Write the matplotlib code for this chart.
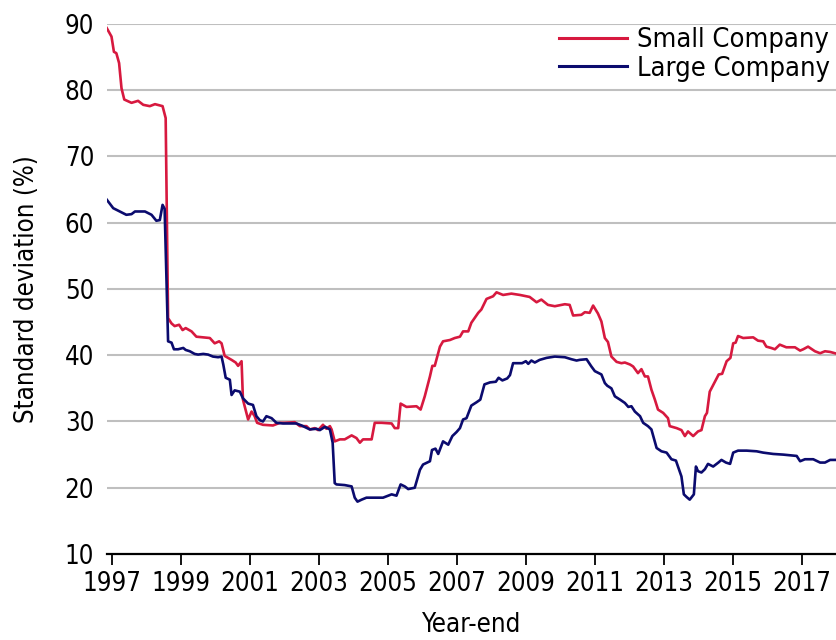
import matplotlib
matplotlib.use("Agg")
import matplotlib.pyplot as plt

plt.rcParams['font.family'] = ['DejaVu Sans']
plt.rcParams['font.stretch'] = 'condensed'

small_years = [1996.86, 1997.00, 1997.07, 1997.14, 1997.22, 1997.29, 1997.37, 1997.58, 1997.77, 1997.92,
               1998.11, 1998.26, 1998.48, 1998.57, 1998.64, 1998.74, 1998.83, 1998.96, 1999.06, 1999.15,
               1999.32, 1999.46, 1999.66, 1999.85, 1999.99, 2000.12, 2000.19, 2000.28, 2000.38, 2000.48,
               2000.60, 2000.67, 2000.77, 2000.81, 2000.96, 2001.06, 2001.15, 2001.22, 2001.39, 2001.68,
               2001.88, 2002.02, 2002.31, 2002.46, 2002.65, 2002.75, 2002.89, 2002.99, 2003.13, 2003.23,
               2003.33, 2003.38, 2003.47, 2003.62, 2003.76, 2003.96, 2004.10, 2004.20, 2004.29, 2004.54,
               2004.63, 2004.83, 2005.12, 2005.21, 2005.31, 2005.38, 2005.45, 2005.55, 2005.84, 2005.96,
               2006.08, 2006.23, 2006.30, 2006.37, 2006.52, 2006.61, 2006.81, 2006.95, 2007.10, 2007.19,
               2007.34, 2007.43, 2007.63, 2007.72, 2007.87, 2008.06, 2008.16, 2008.35, 2008.59, 2008.84,
               2009.12, 2009.32, 2009.46, 2009.65, 2009.85, 2010.14, 2010.28, 2010.38, 2010.62, 2010.72,
               2010.86, 2010.96, 2011.10, 2011.20, 2011.30, 2011.39, 2011.49, 2011.64, 2011.78, 2011.88,
               2012.03, 2012.12, 2012.26, 2012.36, 2012.46, 2012.55, 2012.65, 2012.75, 2012.84, 2012.99,
               2013.13, 2013.18, 2013.38, 2013.52, 2013.62, 2013.71, 2013.86, 2014.00, 2014.10, 2014.20,
               2014.26, 2014.34, 2014.49, 2014.60, 2014.70, 2014.83, 2014.94, 2015.02, 2015.09, 2015.16,
               2015.31, 2015.60, 2015.74, 2015.89, 2015.98, 2016.12, 2016.23, 2016.37, 2016.56, 2016.81,
               2016.96, 2017.05, 2017.19, 2017.39, 2017.54, 2017.68, 2017.83, 2017.97]
small_values = [89.4, 88.1, 85.8, 85.6, 84.1, 80.3, 78.6, 78.1, 78.4, 77.8,
                77.6, 77.9, 77.6, 75.8, 45.6, 44.8, 44.4, 44.6, 43.8, 44.1,
                43.6, 42.8, 42.7, 42.6, 41.8, 42.1, 41.8, 39.9, 39.6, 39.3,
                38.9, 38.4, 39.1, 33.3, 30.3, 31.5, 30.8, 29.8, 29.5, 29.4,
                29.8, 29.8, 29.9, 29.3, 29.3, 28.8, 29.0, 28.7, 29.5, 28.9,
                29.3, 28.8, 27.0, 27.3, 27.3, 27.9, 27.5, 26.8, 27.3, 27.3,
                29.8, 29.8, 29.7, 29.0, 29.0, 32.7, 32.5, 32.2, 32.3, 31.8,
                33.8, 36.8, 38.4, 38.4, 41.3, 42.1, 42.3, 42.6, 42.8, 43.6,
                43.6, 44.9, 46.4, 46.9, 48.5, 48.9, 49.5, 49.1, 49.3, 49.1,
                48.8, 48.0, 48.4, 47.6, 47.4, 47.7, 47.6, 46.0, 46.1, 46.5,
                46.4, 47.5, 46.3, 45.1, 42.6, 42.0, 39.8, 39.0, 38.8, 38.9,
                38.6, 38.3, 37.3, 37.9, 36.8, 36.8, 34.8, 33.3, 31.8, 31.3,
                30.5, 29.3, 29.0, 28.7, 27.8, 28.5, 27.8, 28.5, 28.7, 30.8,
                31.3, 34.5, 36.0, 37.1, 37.2, 39.1, 39.6, 41.8, 41.9, 42.9,
                42.6, 42.7, 42.2, 42.1, 41.3, 41.1, 40.9, 41.6, 41.2, 41.2,
                40.7, 40.9, 41.3, 40.6, 40.3, 40.6, 40.5, 40.3]

large_years = [1996.86, 1997.05, 1997.24, 1997.43, 1997.58, 1997.68, 1997.97, 1998.16, 1998.30, 1998.40,
               1998.48, 1998.54, 1998.64, 1998.74, 1998.81, 1998.93, 1999.08, 1999.15, 1999.27, 1999.41,
               1999.51, 1999.66, 1999.80, 1999.94, 2000.09, 2000.19, 2000.24, 2000.31, 2000.43, 2000.48,
               2000.57, 2000.72, 2000.81, 2000.96, 2001.10, 2001.20, 2001.30, 2001.39, 2001.49, 2001.64,
               2001.78, 2001.97, 2002.36, 2002.51, 2002.75, 2002.94, 2003.04, 2003.19, 2003.33, 2003.41,
               2003.47, 2003.52, 2003.76, 2003.96, 2004.05, 2004.13, 2004.25, 2004.39, 2004.68, 2004.87,
               2004.97, 2005.12, 2005.26, 2005.38, 2005.50, 2005.60, 2005.79, 2005.94, 2006.03, 2006.23,
               2006.29, 2006.39, 2006.47, 2006.61, 2006.76, 2006.88, 2007.00, 2007.10, 2007.19, 2007.29,
               2007.43, 2007.58, 2007.69, 2007.81, 2007.97, 2008.14, 2008.22, 2008.33, 2008.47, 2008.55,
               2008.64, 2008.90, 2009.01, 2009.08, 2009.17, 2009.27, 2009.41, 2009.61, 2009.85, 2010.14,
               2010.33, 2010.48, 2010.57, 2010.77, 2010.91, 2011.01, 2011.20, 2011.30, 2011.37, 2011.49,
               2011.59, 2011.74, 2011.88, 2011.98, 2012.07, 2012.17, 2012.32, 2012.41, 2012.55, 2012.65,
               2012.80, 2012.94, 2013.09, 2013.23, 2013.36, 2013.42, 2013.52, 2013.59, 2013.67, 2013.76,
               2013.88, 2013.94, 2014.00, 2014.10, 2014.20, 2014.29, 2014.44, 2014.59, 2014.68, 2014.81,
               2014.93, 2015.02, 2015.16, 2015.41, 2015.70, 2015.89, 2016.18, 2016.47, 2016.86, 2016.96,
               2017.10, 2017.34, 2017.54, 2017.68, 2017.83, 2017.97]
large_values = [63.5, 62.2, 61.7, 61.2, 61.3, 61.7, 61.7, 61.2, 60.3, 60.4,
                62.7, 62.1, 42.1, 41.9, 40.9, 40.9, 41.1, 40.8, 40.6, 40.2,
                40.1, 40.2, 40.1, 39.8, 39.7, 39.8, 38.6, 36.6, 36.3, 34.0,
                34.7, 34.5, 33.5, 32.7, 32.5, 30.8, 30.2, 30.0, 30.8, 30.5,
                29.8, 29.7, 29.7, 29.4, 28.8, 28.9, 28.7, 29.2, 28.8, 26.8,
                20.7, 20.5, 20.4, 20.2, 18.5, 17.9, 18.2, 18.5, 18.5, 18.5,
                18.7, 19.0, 18.8, 20.5, 20.2, 19.8, 20.0, 22.7, 23.5, 24.0,
                25.7, 25.9, 25.1, 27.0, 26.5, 27.8, 28.4, 29.0, 30.3, 30.5,
                32.4, 32.9, 33.3, 35.6, 35.9, 36.0, 36.6, 36.2, 36.5, 37.0,
                38.8, 38.8, 39.1, 38.7, 39.2, 38.9, 39.3, 39.6, 39.8, 39.7,
                39.4, 39.2, 39.3, 39.4, 38.3, 37.6, 37.1, 35.8, 35.4, 35.0,
                33.8, 33.3, 32.8, 32.2, 32.3, 31.5, 30.8, 29.8, 29.3, 28.8,
                26.0, 25.5, 25.3, 24.3, 24.1, 23.2, 21.7, 19.0, 18.6, 18.2,
                19.0, 23.2, 22.5, 22.3, 22.8, 23.6, 23.2, 23.8, 24.2, 23.8,
                23.6, 25.3, 25.6, 25.6, 25.5, 25.3, 25.1, 25.0, 24.8, 24.0,
                24.3, 24.3, 23.8, 23.8, 24.2, 24.2]

series_labels = ["Small Company", "Large Company"]
xtick_years = [1997, 1999, 2001, 2003, 2005, 2007, 2009, 2011, 2013, 2015, 2017]
ytick_values = [10, 20, 30, 40, 50, 60, 70, 80, 90]

red = "#D7193F"
navy = "#0B0B6E"
fs = 18.5
fs_leg = 19.5

fig = plt.figure(figsize=(8.36, 6.4), dpi=100)
ax = fig.add_axes([0.1276, 0.1344, 0.8724, 0.8281])

ax.plot(small_years, small_values, color=red, lw=1.9, label=series_labels[0], zorder=3)
ax.plot(large_years, large_values, color=navy, lw=1.9, label=series_labels[1], zorder=3)

ax.set_xlim(1996.86, 2018.0)
ax.set_ylim(10, 90)
ax.set_xticks(xtick_years)
ax.set_xticklabels([str(y) for y in xtick_years], fontsize=fs)
ax.set_yticks(ytick_values)
ax.set_yticklabels([str(v) for v in ytick_values], fontsize=fs)

for v in ytick_values[1:]:
    ax.axhline(v, color="#BFBFBF", lw=1.5, zorder=1)

for s in ["left", "right", "top"]:
    ax.spines[s].set_visible(False)
ax.spines["bottom"].set_linewidth(1.6)
ax.spines["bottom"].set_color("black")
ax.spines["bottom"].set_zorder(4)

ax.tick_params(axis="y", length=0, pad=9)
ax.tick_params(axis="x", direction="out", length=8, width=1.3, pad=4)

ax.set_ylabel("Standard deviation (%)", fontsize=fs, labelpad=18)
ax.set_xlabel("Year-end", fontsize=fs, labelpad=11)

leg = ax.legend(loc="upper right", bbox_to_anchor=(1.007, 1.014), frameon=False,
                fontsize=fs_leg, handlelength=2.5, handletextpad=0.38, labelspacing=0.08,
                borderaxespad=0.0)
for line in leg.get_lines():
    line.set_linewidth(2.2)

fig.savefig("out.png", dpi=100)
